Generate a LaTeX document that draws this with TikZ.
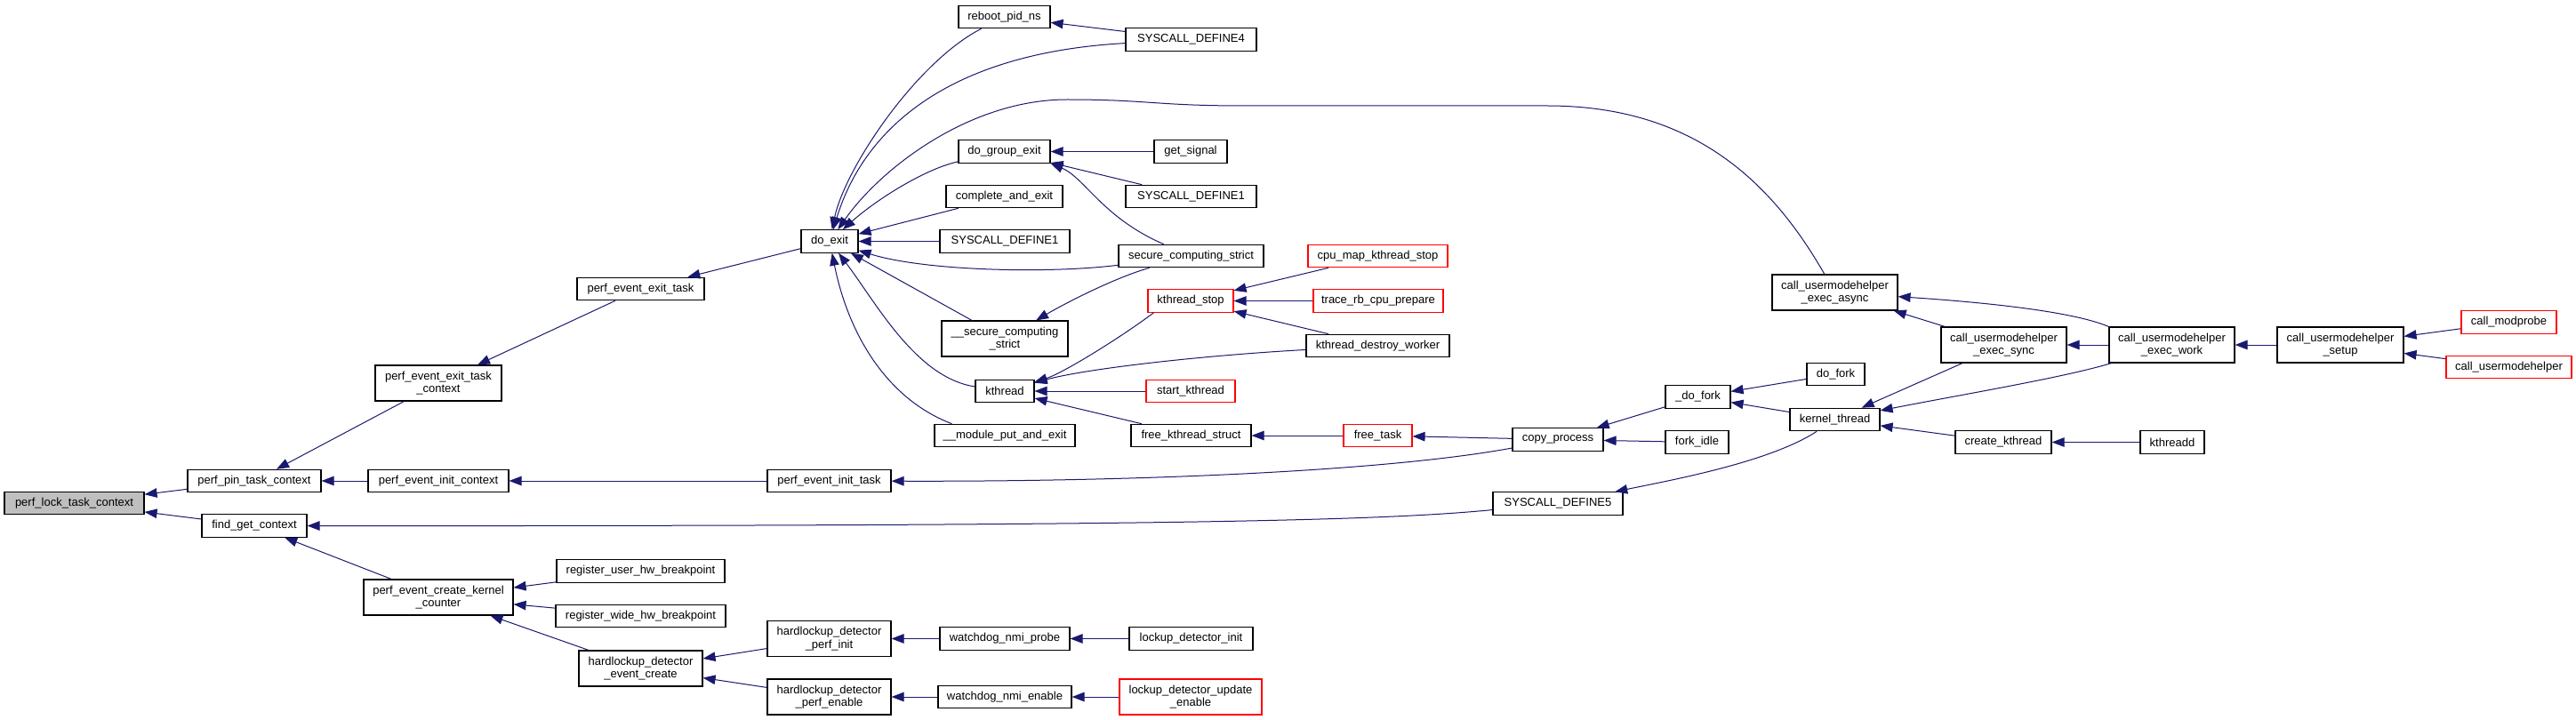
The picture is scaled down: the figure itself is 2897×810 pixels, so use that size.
\documentclass[tikz,border=0pt]{standalone}
\usepackage{fontspec}
\setmainfont{Liberation Sans}
\usetikzlibrary{arrows.meta}
\definecolor{edgeblue}{HTML}{191970}
\definecolor{rootgray}{HTML}{BFBFBF}

\begin{document}
\begin{tikzpicture}[x=1pt,y=-1pt,font=\fontsize{13}{14.5}\selectfont,
  fn/.style={draw=black,line width=1.1pt,fill=white,inner sep=0pt,minimum height=25.5pt,align=center},
  fn2/.style={fn,minimum height=40pt},
  trunc/.style={draw=red},
  calls/.style={draw=edgeblue,line width=1pt,arrows={Triangle[length=14pt,width=10.5pt]-}}]
  \fill[white] (0,0) rectangle (2897,810);
  \useasboundingbox (0,0) rectangle (2897,810);
  \node[fn,fill=rootgray,minimum width=157pt] (lock) at (83.5,566) {perf\_lock\_task\_context};
  \node[fn,minimum width=150pt] (pin) at (286,541) {perf\_pin\_task\_context};
  \node[fn,minimum width=118pt] (findctx) at (286,591.5) {find\_get\_context};
  \node[fn2,minimum width=142pt] (exitctx) at (493,431) {perf\_event\_exit\_task\\\_context};
  \node[fn,minimum width=158pt] (initctx) at (493,541) {perf\_event\_init\_context};
  \node[fn2,minimum width=168pt] (counter) at (493,672) {perf\_event\_create\_kernel\\\_counter};
  \node[fn,minimum width=143pt] (exittask) at (720.5,325) {perf\_event\_exit\_task};
  \node[fn,minimum width=189pt] (reguser) at (720.5,642.5) {register\_user\_hw\_breakpoint};
  \node[fn,minimum width=191pt] (regwide) at (720.5,693) {register\_wide\_hw\_breakpoint};
  \node[fn2,minimum width=139pt] (hdcreate) at (720.5,752) {hardlockup\_detector\\\_event\_create};
  \node[fn,minimum width=64pt] (doexit) at (933,271.5) {do\_exit};
  \node[fn,minimum width=139pt] (inittask) at (932.5,541) {perf\_event\_init\_task};
  \node[fn2,minimum width=139pt] (hdinit) at (932.5,718.5) {hardlockup\_detector\\\_perf\_init};
  \node[fn2,minimum width=139pt] (hdenable) at (932.5,784) {hardlockup\_detector\\\_perf\_enable};
  \node[fn,minimum width=103pt] (reboot) at (1129.5,19) {reboot\_pid\_ns};
  \node[fn,minimum width=103pt] (groupexit) at (1129.5,170.5) {do\_group\_exit};
  \node[fn,minimum width=131pt] (complete) at (1129.5,221) {complete\_and\_exit};
  \node[fn,minimum width=146pt] (sysdefb) at (1130,271.5) {SYSCALL\_DEFINE1};
  \node[fn2,minimum width=142pt] (secstrictb) at (1130,381) {\_\_secure\_computing\\\_strict};
  \node[fn,minimum width=66pt] (kthread) at (1130,440) {kthread};
  \node[fn,minimum width=158pt] (modput) at (1130,490) {\_\_module\_put\_and\_exit};
  \node[fn,minimum width=146pt] (nmiprobe) at (1130,718.5) {watchdog\_nmi\_probe};
  \node[fn,minimum width=150pt] (nmienable) at (1130,784) {watchdog\_nmi\_enable};
  \node[fn,minimum width=147pt] (sysdefd) at (1339.5,44.5) {SYSCALL\_DEFINE4};
  \node[fn,minimum width=82pt] (getsignal) at (1339,170.5) {get\_signal};
  \node[fn,minimum width=147pt] (sysdefa) at (1339.5,221) {SYSCALL\_DEFINE1};
  \node[fn,minimum width=163pt] (secstrict) at (1339.5,288) {secure\_computing\_strict};
  \node[fn,trunc,minimum width=96pt] (kthreadstop) at (1339,338.5) {kthread\_stop};
  \node[fn,trunc,minimum width=100pt] (startkthread) at (1339,440) {start\_kthread};
  \node[fn,minimum width=135pt] (freestruct) at (1339.5,490) {free\_kthread\_struct};
  \node[fn,minimum width=139pt] (lockupinit) at (1339.5,718.5) {lockup\_detector\_init};
  \node[fn2,trunc,minimum width=160pt] (lockupupd) at (1339,784) {lockup\_detector\_update\\\_enable};
  \node[fn,trunc,minimum width=157pt] (cpumap) at (1549.5,288) {cpu\_map\_kthread\_stop};
  \node[fn,trunc,minimum width=146pt] (tracerb) at (1550,338.5) {trace\_rb\_cpu\_prepare};
  \node[fn,minimum width=161pt] (destroyworker) at (1549.5,389) {kthread\_destroy\_worker};
  \node[fn,trunc,minimum width=77pt] (freetask) at (1549.5,490) {free\_task};
  \node[fn,minimum width=102pt] (copyproc) at (1752,494.5) {copy\_process};
  \node[fn,minimum width=146pt] (sysdefe) at (1752,566.5) {SYSCALL\_DEFINE5};
  \node[fn,minimum width=73pt] (underfork) at (1909.5,446.5) {\_do\_fork};
  \node[fn,minimum width=71pt] (forkidle) at (1908.5,497.5) {fork\_idle};
  \node[fn,minimum width=65pt] (dofork) at (2064.5,421) {do\_fork};
  \node[fn,minimum width=101pt] (kernelthread) at (2063.5,472) {kernel\_thread};
  \node[fn2,minimum width=141pt] (execasync) at (2063.5,329) {call\_usermodehelper\\\_exec\_async};
  \node[fn,minimum width=108pt] (createkthread) at (2253,497.5) {create\_kthread};
  \node[fn2,minimum width=141pt] (execsync) at (2253.5,388) {call\_usermodehelper\\\_exec\_sync};
  \node[fn,minimum width=72pt] (kthreadd) at (2443,497.5) {kthreadd};
  \node[fn2,minimum width=141pt] (execwork) at (2442.5,388) {call\_usermodehelper\\\_exec\_work};
  \node[fn2,minimum width=142pt] (setup) at (2632,388) {call\_usermodehelper\\\_setup};
  \node[fn,trunc,minimum width=107pt] (modprobe) at (2821.5,362.5) {call\_modprobe};
  \node[fn,trunc,minimum width=141pt] (usermodehelper) at (2821.5,413) {call\_usermodehelper};
  \draw[calls] (lock) -- (pin);
  \draw[calls] (lock) -- (findctx);
  \draw[calls] (pin) -- (exitctx);
  \draw[calls] (pin) -- (initctx);
  \draw[calls] (exitctx) -- (exittask);
  \draw[calls] (exittask) -- (doexit);
  \draw[calls] (initctx) -- (inittask);
  \draw[calls] (inittask) .. controls (1280,542) and (1560,530) .. (copyproc);
  \draw[calls] (findctx) .. controls (1350,592) and (1560,585) .. (sysdefe);
  \draw[calls] (findctx) -- (counter);
  \draw[calls] (counter) -- (reguser);
  \draw[calls] (counter) -- (regwide);
  \draw[calls] (counter) -- (hdcreate);
  \draw[calls] (hdcreate) -- (hdinit);
  \draw[calls] (hdcreate) -- (hdenable);
  \draw[calls] (hdinit) -- (nmiprobe);
  \draw[calls] (nmiprobe) -- (lockupinit);
  \draw[calls] (hdenable) -- (nmienable);
  \draw[calls] (nmienable) -- (lockupupd);
  \draw[calls] (doexit) .. controls (950,190) and (1030,70) .. (reboot);
  \draw[calls] (doexit) .. controls (970,150) and (1060,60) .. (sysdefd);
  \draw[calls] (doexit) .. controls (990,190) and (1090,112) .. (1200,112)
    .. controls (1290,112) and (1300,119) .. (1400,119) -- (1740,119)
    .. controls (1900,119) and (1990,200) .. (execasync);
  \draw[calls] (doexit) .. controls (985,225) and (1040,190) .. (groupexit);
  \draw[calls] (doexit) -- (complete);
  \draw[calls] (doexit) -- (sysdefb);
  \draw[calls] (doexit) .. controls (1040,305) and (1180,308) .. (secstrict);
  \draw[calls] (doexit) -- (secstrictb);
  \draw[calls] (doexit) .. controls (985,340) and (1030,425) .. (kthread);
  \draw[calls] (doexit) .. controls (955,380) and (1000,450) .. ([xshift=20pt]modput.north west);
  \draw[calls] (reboot) -- (sysdefd);
  \draw[calls] (groupexit) -- (getsignal);
  \draw[calls] (groupexit) -- (sysdefa);
  \draw[calls] (groupexit.south east) .. controls (1220,200) and (1240,245) .. (secstrict);
  \draw[calls] (secstrictb) .. controls (1200,340) and (1255,312) .. (secstrict);
  \draw[calls] (kthread) .. controls (1195,420) and (1260,380) .. ([xshift=7pt]kthreadstop.south west);
  \draw[calls] (kthread) .. controls (1220,415) and (1350,400) .. (destroyworker);
  \draw[calls] (kthread) -- (startkthread);
  \draw[calls] (kthread) -- (freestruct);
  \draw[calls] (kthreadstop) -- (cpumap);
  \draw[calls] (kthreadstop) -- (tracerb);
  \draw[calls] (kthreadstop) -- (destroyworker);
  \draw[calls] (freestruct) -- (freetask);
  \draw[calls] (freetask) -- (copyproc);
  \draw[calls] (copyproc) -- (underfork);
  \draw[calls] (copyproc) -- (forkidle);
  \draw[calls] (underfork) -- (dofork);
  \draw[calls] (underfork) -- (kernelthread);
  \draw[calls] (sysdefe) .. controls (1880,540) and (1990,520) .. (kernelthread);
  \draw[calls] (kernelthread) -- (execsync);
  \draw[calls] (kernelthread) .. controls (2200,445) and (2320,425) .. (execwork);
  \draw[calls] (kernelthread) -- (createkthread);
  \draw[calls] (createkthread) -- (kthreadd);
  \draw[calls] (execasync) -- (execsync);
  \draw[calls] (execasync) .. controls (2230,340) and (2330,350) .. (execwork.north west);
  \draw[calls] (execsync) -- (execwork);
  \draw[calls] (execwork) -- (setup);
  \draw[calls] (setup) -- (modprobe);
  \draw[calls] (setup) -- (usermodehelper);
\end{tikzpicture}
\end{document}
